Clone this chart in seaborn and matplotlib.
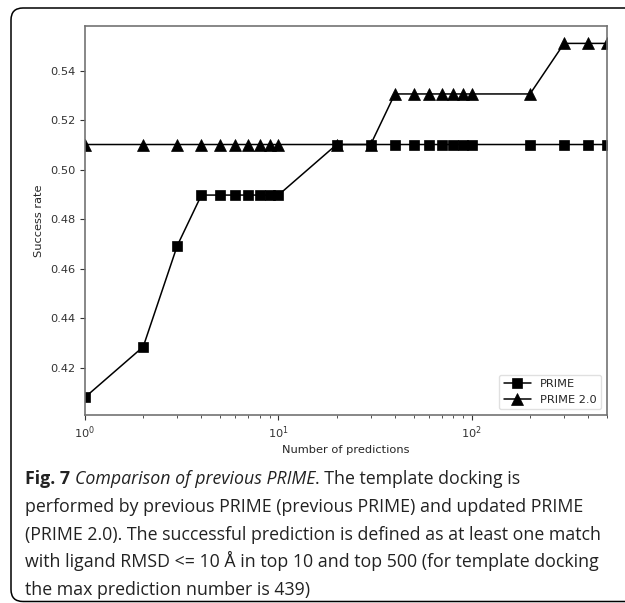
import matplotlib
matplotlib.use("Agg")

import matplotlib.pyplot as plt
import seaborn as sns
from matplotlib.patches import FancyBboxPatch
from matplotlib.transforms import IdentityTransform

# -----------------------------
# Data
# -----------------------------
n_predictions = [1, 2, 3, 4, 5, 6, 7, 8, 9, 10,
                 20, 30, 40, 50, 60, 70, 80, 90, 100,
                 200, 300, 400, 500]

prime_rate = [0.4082, 0.4286, 0.4694, 0.4898, 0.4898, 0.4898, 0.4898, 0.4898, 0.4898, 0.4898,
              0.5102, 0.5102, 0.5102, 0.5102, 0.5102, 0.5102, 0.5102, 0.5102, 0.5102,
              0.5102, 0.5102, 0.5102, 0.5102]

prime2_rate = [0.5102, 0.5102, 0.5102, 0.5102, 0.5102, 0.5102, 0.5102, 0.5102, 0.5102, 0.5102,
               0.5102, 0.5102, 0.5306, 0.5306, 0.5306, 0.5306, 0.5306, 0.5306, 0.5306,
               0.5306, 0.5510, 0.5510, 0.5510]

series_labels = ["PRIME", "PRIME 2.0"]

caption_lines = [
    [("Fig. 7 ", "bold", "normal"),
     ("Comparison of previous PRIME", "normal", "italic"),
     (". The template docking is", "normal", "normal")],
    [("performed by previous PRIME (previous PRIME) and updated PRIME", "normal", "normal")],
    [("(PRIME 2.0). The successful prediction is defined as at least one match", "normal", "normal")],
    [("with ligand RMSD <= 10 Å in top 10 and top 500 (for template docking", "normal", "normal")],
    [("the max prediction number is 439)", "normal", "normal")],
]

# -----------------------------
# Style
# -----------------------------
sns.set_style("ticks")
plt.rcParams["font.family"] = ["DejaVu Sans"]

W, H = 625, 603
fig = plt.figure(figsize=(W / 100, H / 100), dpi=100)

ax = fig.add_axes([85 / W, 1 - 415 / H, (607 - 85) / W, (415 - 25.7) / H])

sns.lineplot(x=n_predictions, y=prime_rate, marker="s", markersize=7.5,
             color="black", markeredgecolor="black", markeredgewidth=0.5,
             linewidth=1.1, label=series_labels[0], ax=ax)
sns.lineplot(x=n_predictions, y=prime2_rate, marker="^", markersize=8,
             color="black", markeredgecolor="black", markeredgewidth=0.5,
             linewidth=1.1, label=series_labels[1], ax=ax)

ax.set_xscale("log")
ax.set_xlim(1, 500)
ax.margins(y=0.05)
ax.autoscale(axis="y")

ax.set_xlabel("Number of predictions", fontsize=8.2, labelpad=3)
ax.set_ylabel("Success rate", fontsize=8.2)
ax.tick_params(axis="both", which="both", labelsize=8.2, colors="0.2", direction="out")
for sp in ax.spines.values():
    sp.set_color("0.45")
    sp.set_linewidth(1.2)

leg = ax.legend(loc="lower right", fontsize=8.2, handlelength=2.4, frameon=True)
leg.get_frame().set_edgecolor("0.85")

# -----------------------------
# Outer frame + caption
# -----------------------------
frame = FancyBboxPatch((11, 1.5), 650, 593.5,
                       boxstyle="round,pad=0,rounding_size=12",
                       transform=IdentityTransform(), fill=False,
                       edgecolor="black", linewidth=1.1)
fig.patches.append(frame)

renderer = fig.canvas.get_renderer()
cap_font = ["Open Sans", "DejaVu Sans"]
cap_size = 12.8
x0 = 25
for i, line in enumerate(caption_lines):
    y_px = H - (484.5 + i * 27.6)
    x_px = x0
    for txt, weight, style in line:
        t = fig.text(x_px / W, y_px / H, txt, fontsize=cap_size, family=cap_font,
                     weight=weight, style=style, color="#222222",
                     ha="left", va="baseline")
        bb = t.get_window_extent(renderer=renderer)
        x_px += bb.width

fig.savefig("out.png", dpi=100)
plt.close(fig)
